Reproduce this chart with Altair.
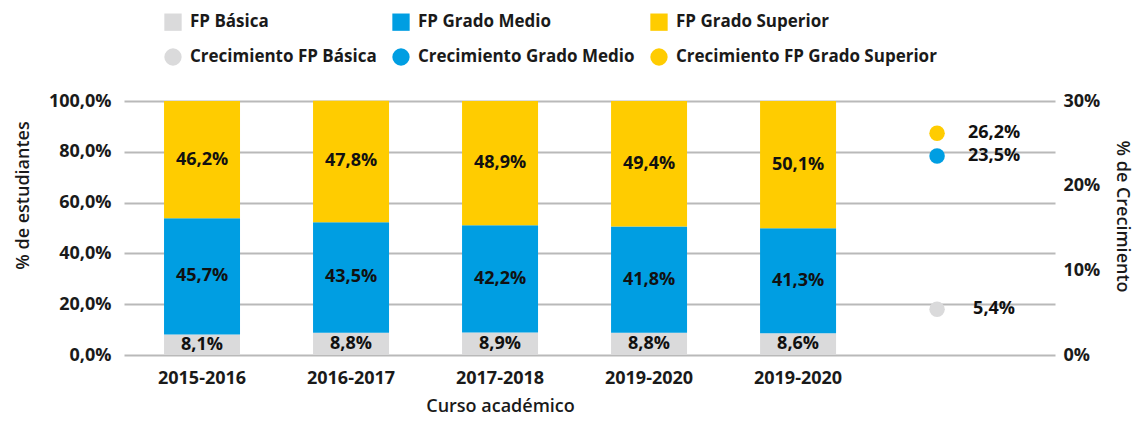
import altair as alt
import pandas as pd

cursos = ["2015-2016", "2016-2017", "2017-2018", "2019-2020", "2019-2020"]
series = ["FP Básica", "FP Grado Medio", "FP Grado Superior"]
fp_basica = [8.1, 8.8, 8.9, 8.8, 8.6]
fp_medio = [45.7, 43.5, 42.2, 41.8, 41.3]
fp_superior = [46.2, 47.8, 48.9, 49.4, 50.1]

crec_series = ["Crecimiento FP Básica", "Crecimiento Grado Medio", "Crecimiento FP Grado Superior"]
crec_valores = [5.4, 23.5, 26.2]

colores = ["#dadadb", "#009ee2", "#ffcc00"]

rows = []
for i in range(len(cursos)):
    for k, vals in enumerate([fp_basica, fp_medio, fp_superior]):
        rows.append({"pos": i, "serie": series[k], "orden": k, "valor": vals[i],
                     "etiqueta": f"{vals[i]:.1f}".replace(".", ",") + "%"})
bars_df = pd.DataFrame(rows)

dots_df = pd.DataFrame({
    "pos": [len(cursos)] * 3,
    "serie": crec_series,
    "crec": crec_valores,
    "etiqueta": [f"{v:.1f}".replace(".", ",") + "%" for v in crec_valores],
})

all_series = series + crec_series
color_scale = alt.Scale(domain=all_series, range=colores + colores)
shape_scale = alt.Scale(domain=all_series, range=["square"] * 3 + ["circle"] * 3)

label_list = "[" + ",".join(f"'{c}'" for c in cursos) + ",'']"
FONT = "Open Sans"

x_enc = alt.X(
    "pos:O",
    scale=alt.Scale(paddingInner=0.49, paddingOuter=0.369, align=0.364),
    axis=alt.Axis(
        title="Curso académico",
        labelExpr=f"{label_list}[datum.value]",
        labelAngle=0, labelFontSize=18, labelFontWeight="bold", labelColor="#1a1a1a",
        labelPadding=14, ticks=False, domain=False,
        titleFontSize=18, titleFontWeight=600, titleColor="#1a1a1a", titlePadding=10,
        titleX=376,
    ),
)

y_left = alt.Y(
    "valor:Q",
    stack="zero",
    scale=alt.Scale(domain=[0, 100]),
    axis=alt.Axis(
        title="% de estudiantes",
        values=[0, 20, 40, 60, 80, 100],
        labelExpr="replace(format(datum.value, '.1f'), '.', ',') + '%'",
        labelFontSize=18, labelFontWeight="bold", labelColor="#1a1a1a",
        labelPadding=13, ticks=False, domain=False,
        grid=True, gridColor="#b9b9b9", gridWidth=2,
        titleFontSize=18, titleFontWeight=600, titleColor="#1a1a1a", titlePadding=16,
        titleY=94,
    ),
)

bars = alt.Chart(bars_df).mark_bar().encode(
    x=x_enc,
    y=y_left,
    color=alt.Color("serie:N", scale=color_scale,
                    legend=alt.Legend(
                        title=None, orient="none", legendX=40, legendY=-88,
                        direction="horizontal", columns=3,
                        symbolSize=300, symbolOpacity=1, symbolStrokeWidth=0,
                        labelFontSize=17, labelFontWeight="bold", labelColor="#1a1a1a",
                        labelOffset=8, columnPadding=15, rowPadding=17, padding=0,
                        labelLimit=400,
                    )),
    order=alt.Order("orden:Q"),
)

bar_text = alt.Chart(bars_df).transform_stack(
    stack="valor", groupby=["pos"], as_=["y0", "y1"], sort=[alt.SortField("orden")]
).transform_calculate(
    valor="(datum.y0 + datum.y1) / 2"
).mark_text(fontSize=18, fontWeight="bold", color="#111111", baseline="middle").encode(
    x=alt.X("pos:O"),
    y=alt.Y("valor:Q", stack=None),
    text="etiqueta:N",
)

y_right = alt.Y(
    "crec:Q",
    scale=alt.Scale(domain=[0, 30]),
    axis=alt.Axis(
        orient="right", title="% de Crecimiento",
        values=[0, 10, 20, 30],
        labelExpr="format(datum.value, 'd') + '%'",
        labelFontSize=18, labelFontWeight="bold", labelColor="#1a1a1a",
        labelPadding=8, ticks=False, domain=False, grid=False,
        titleFontSize=18, titleFontWeight=600, titleColor="#1a1a1a", titlePadding=13,
        titleY=115,
    ),
)

dots = alt.Chart(dots_df).mark_point(filled=True, size=240, opacity=1, xOffset=-10).encode(
    x=alt.X("pos:O"),
    y=y_right,
    color=alt.Color("serie:N", scale=color_scale),
    shape=alt.Shape("serie:N", scale=shape_scale),
)

dot_text = alt.Chart(dots_df).mark_text(
    fontSize=18, fontWeight="bold", color="#111111", dx=47, baseline="middle"
).encode(
    x=alt.X("pos:O"),
    y=y_right,
    text="etiqueta:N",
)

left = alt.layer(bars, bar_text)
right = alt.layer(dots, dot_text)

chart = alt.layer(left, right).resolve_scale(y="independent").properties(
    width=931, height=254,
    autosize=alt.AutoSizeParams(type="none"),
    padding={"left": 116, "top": 93, "right": 83, "bottom": 60},
).configure(font=FONT).configure_view(stroke=None)

chart.save("out.html", embed_options={"renderer": "svg", "actions": False})
